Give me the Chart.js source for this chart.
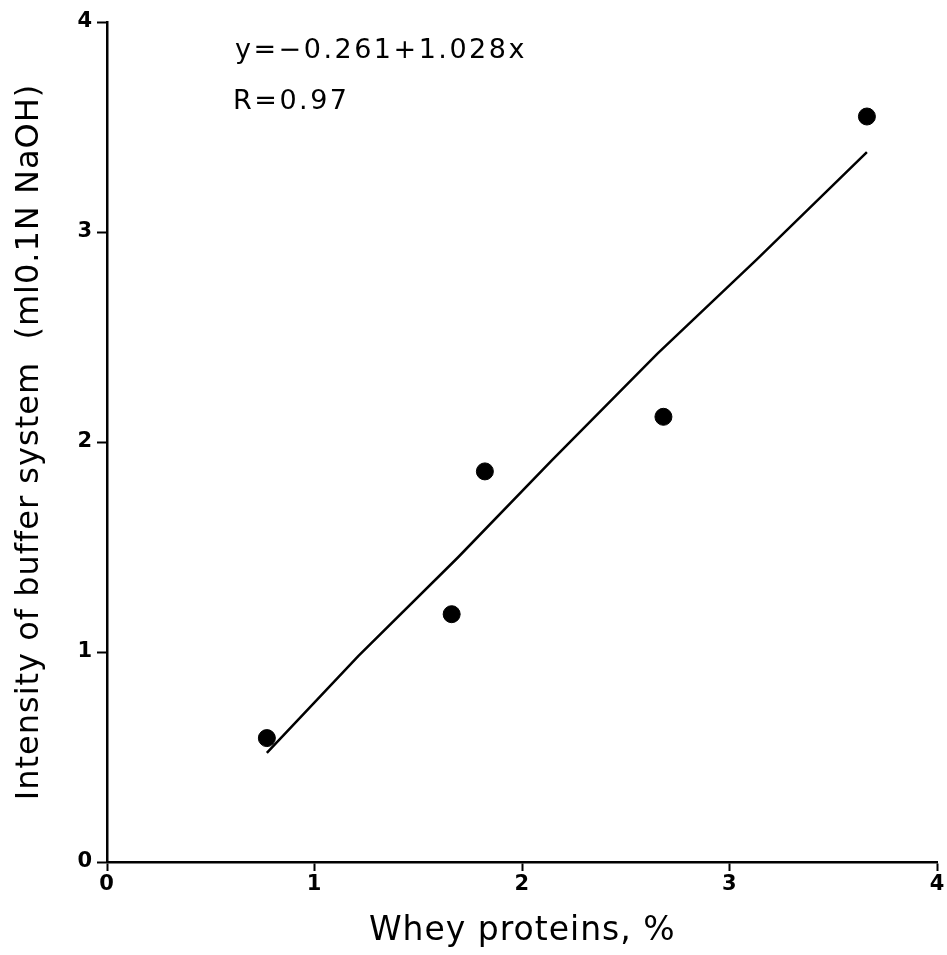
<!DOCTYPE html>
<html>
<head>
<meta charset="utf-8">
<script src="https://cdn.jsdelivr.net/npm/chart.js@4.4.1/dist/chart.umd.min.js"></script>
<style>
  html, body { margin: 0; padding: 0; background: #fff; }
  #wrap { width: 947px; height: 955px; }
</style>
</head>
<body>
<div id="wrap"><canvas id="c" width="947" height="955"></canvas></div>
<script>
// Whey protein content (%) vs buffer intensity (ml 0.1N NaOH)
const wheyProtein = [0.77, 1.66, 1.82, 2.68, 3.66];
const bufferIntensity = [0.59, 1.18, 1.86, 2.12, 3.55];

// Hand-drawn regression line, sampled along its length
const fitX = [0.77, 1.21, 1.69, 2.14, 2.65, 3.13, 3.66];
const fitY = [0.52, 0.98, 1.45, 1.91, 2.42, 2.87, 3.38];

const xTicks = [0, 1, 2, 3, 4];
const yTicks = [0, 1, 2, 3, 4];

const equationText = 'y=\u22120.261+1.028x';
const rText = 'R=0.97';

// Slightly open spacing for all scale text
const spacing = {
  id: 'spacing',
  beforeDraw(chart) {
    if ('letterSpacing' in chart.ctx) chart.ctx.letterSpacing = '1px';
  },
  afterDraw(chart) {
    if ('letterSpacing' in chart.ctx) chart.ctx.letterSpacing = '0px';
  }
};

const annotate = {
  id: 'annotate',
  afterDraw(chart) {
    const ctx = chart.ctx;
    ctx.save();
    ctx.fillStyle = '#000';
    ctx.font = '27px "DejaVu Sans"';
    ctx.textBaseline = 'middle';
    ctx.textAlign = 'left';
    if ('letterSpacing' in ctx) ctx.letterSpacing = '2.5px';
    ctx.fillText(equationText, 235, 51);
    ctx.fillText(rText, 233, 102);
    ctx.restore();
  }
};

new Chart(document.getElementById('c'), {
  type: 'scatter',
  data: {
    datasets: [
      {
        data: fitX.map((x, i) => ({ x, y: fitY[i] })),
        showLine: true,
        borderColor: '#000',
        borderWidth: 2.5,
        pointRadius: 0,
        tension: 0,
        fill: false
      },
      {
        data: wheyProtein.map((x, i) => ({ x, y: bufferIntensity[i] })),
        backgroundColor: '#000',
        borderColor: '#000',
        pointRadius: 8.5,
        showLine: false
      }
    ]
  },
  options: {
    responsive: false,
    animation: false,
    devicePixelRatio: 1,
    layout: { padding: { top: 22, right: 5, left: 0, bottom: 0 } },
    plugins: { legend: { display: false }, tooltip: { enabled: false } },
    scales: {
      x: {
        type: 'linear',
        min: 0, max: 4,
        afterBuildTicks: (s) => { s.ticks = xTicks.map(v => ({ value: v })); },
        afterFit: (s) => { s.height = 93; },
        grid: { drawOnChartArea: false, tickLength: 9, tickColor: '#000', tickWidth: 2 },
        border: { display: true, color: '#000', width: 2.5 },
        ticks: { color: '#000', font: { family: 'DejaVu Sans', size: 21, weight: 'bold' }, padding: 1 },
        title: { display: true, text: 'Whey proteins, %', color: '#000', font: { family: 'DejaVu Sans', size: 33 }, padding: { top: 0 } }
      },
      y: {
        type: 'linear',
        min: 0, max: 4,
        afterBuildTicks: (s) => { s.ticks = yTicks.map(v => ({ value: v })); },
        afterFit: (s) => { s.width = 107; },
        grid: { drawOnChartArea: false, tickLength: 10, tickColor: '#000', tickWidth: 2 },
        border: { display: true, color: '#000', width: 2.5 },
        ticks: { color: '#000', font: { family: 'DejaVu Sans', size: 21, weight: 'bold' }, padding: 4 },
        title: { display: true, text: 'Intensity of buffer system  (ml0.1N NaOH)', color: '#000', font: { family: 'DejaVu Sans', size: 32 }, padding: { top: 10, bottom: 4 } }
      }
    }
  },
  plugins: [spacing, annotate]
});
</script>
</body>
</html>
